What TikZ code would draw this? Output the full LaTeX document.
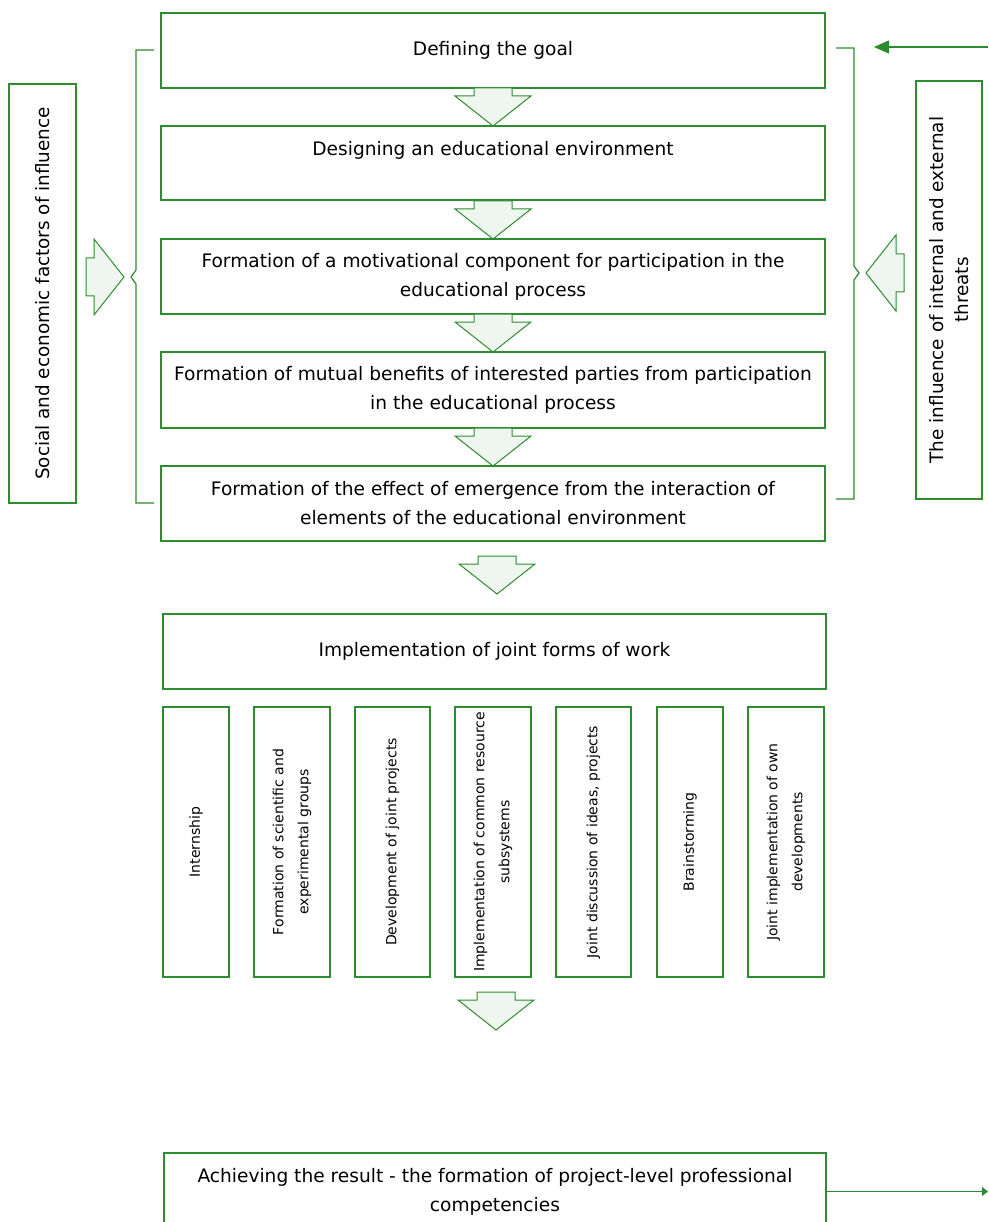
\documentclass[tikz,border=0pt]{standalone}
\usepackage{fontspec}
\setmainfont{DejaVu Sans}
\usetikzlibrary{arrows.meta, positioning}
\definecolor{boxgreen}{RGB}{45,140,45}
\definecolor{arrowfill}{RGB}{239,245,239}
\tikzset{
    rectanglenode/.style = {draw=boxgreen, line width=1.2pt, rectangle, inner sep=0pt,
      align=center, font=\fontsize{18.6}{29}\selectfont},
    wideboxnode/.style = {rectanglenode, minimum width=664pt, minimum height=75pt},
    tallboxnode/.style = {rectanglenode, rotate=90, minimum width=270pt,
      font=\fontsize{14}{25}\selectfont},
    sideboxnode/.style = {rectanglenode, rotate=90, font=\fontsize{18.4}{25}\selectfont},
    textnode/.style = {draw=none, inner sep=0pt, align=center, font=\fontsize{18.6}{29}\selectfont},
    bracket/.style = {draw=boxgreen, line width=1.2pt},
    blockarrow/.style = {draw=boxgreen, fill=arrowfill, line width=1pt, line join=miter},
    connect/.style = {draw=boxgreen, line width=1.2pt, -{Triangle[length=15pt, width=13pt]}},
    blockdown/.pic = {
      \path[blockarrow] (-19,0) -- (19,0) -- (19,8) -- (38,8) -- (0,38) -- (-38,8) -- (-19,8) -- cycle;
    }
}

\begin{document}
\begin{tikzpicture}[x=1pt, y=-1pt]
    \clip (0,0) rectangle (988,1222);

    % stages of the process
    \node [name=goal, wideboxnode] at (493,50.5) {Defining the goal};
    \node [name=design, wideboxnode, minimum height=74pt] at (493,163) {};
    \node [name=designtext, textnode] at (493,150) {Designing an educational environment};
    \node [name=motiv, wideboxnode] at (493,276.5) {Formation of a motivational component for participation in the\\educational process};
    \node [name=benefit, wideboxnode, minimum height=76pt] at (493,390) {Formation of mutual benefits of interested parties from participation\\in the educational process};
    \node [name=emerge, wideboxnode] at (493,503.5) {Formation of the effect of emergence from the interaction of\\elements of the educational environment};

    \pic at (493,88) {blockdown};
    \pic at (493,201) {blockdown};
    \pic at (493,314) {blockdown};
    \pic at (493,428) {blockdown};
    \pic at (497,556) {blockdown};

    % factors on both sides
    \node [name=social, sideboxnode, minimum width=419pt, minimum height=67pt] at (42.5,293.5) {Social and economic factors of influence};
    \node [name=threat, sideboxnode, minimum width=418pt, minimum height=66pt] at (949,290) {The influence of internal and external\\threats};

    \draw [bracket] (154,50) -- (136,50) -- (136,270) -- (131,277) -- (136,284) -- (136,503) -- (154,503);
    \draw [bracket] (836,48) -- (854,48) -- (854,266) -- (859,273) -- (854,280) -- (854,499) -- (836,499);
    \pic [rotate=90] at (86,277) {blockdown};
    \pic [rotate=-90] at (904,273) {blockdown};

    \coordinate (threatsrc) at (988,47);
    \coordinate (threattip) at (874,47);
    \draw [connect] (threatsrc) -- (threattip);

    % joint forms of work
    \node [name=joint, wideboxnode, minimum width=663pt] at (494.5,651.5) {Implementation of joint forms of work};

    \node [name=intern, tallboxnode, minimum height=66pt] at (196,842) {Internship};
    \node [name=groups, tallboxnode, minimum height=76pt] at (292,842) {Formation of scientific and\\experimental groups};
    \node [name=projects, tallboxnode, minimum height=75pt] at (392.5,842) {Development of joint projects};
    \node [name=resource, tallboxnode, minimum height=76pt] at (493,842) {Implementation of common resource\\subsystems};
    \node [name=discuss, tallboxnode, minimum height=75pt] at (593.5,842) {Joint discussion of ideas, projects};
    \node [name=brain, tallboxnode, minimum height=66pt] at (690,842) {Brainstorming};
    \node [name=own, tallboxnode, minimum height=76pt] at (786,842) {Joint implementation of own\\developments};

    \pic at (496,992) {blockdown};

    % result
    \node [name=result, wideboxnode, minimum width=662pt, minimum height=77pt] at (495,1191.5) {Achieving the result - the formation of project-level professional\\competencies};
    \coordinate (resultout) at (988,1191.5);
    \draw [connect, -{Triangle[length=6pt, width=9pt]}] (result.east) -- (resultout);
\end{tikzpicture}
\end{document}
